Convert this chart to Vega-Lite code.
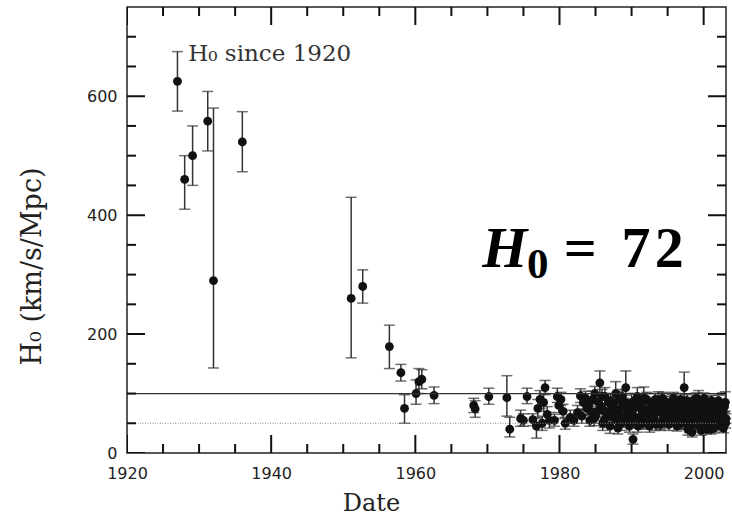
{
  "$schema": "https://vega.github.io/schema/vega-lite/v6.json",
  "width": 599,
  "height": 446,
  "autosize": {"type": "none"},
  "padding": {"left": 127, "top": 7, "right": 6, "bottom": 62},
  "background": "white",
  "config": {
    "view": {"stroke": "#222", "strokeWidth": 1.5},
    "axis": {"labelFont": "DejaVu Sans", "labelFontSize": 16, "labelColor": "#222", "titleFont": "DejaVu Serif", "titleFontSize": 24, "titleFontWeight": "normal", "titleColor": "#222", "ticks": false, "tickSize": 0, "domain": false, "grid": false, "labelOverlap": false, "labelFlush": false}
  },
  "datasets": {
    "xticks": [{"v": 1920}, {"v": 1925}, {"v": 1930}, {"v": 1935}, {"v": 1940}, {"v": 1945}, {"v": 1950}, {"v": 1955}, {"v": 1960}, {"v": 1965}, {"v": 1970}, {"v": 1975}, {"v": 1980}, {"v": 1985}, {"v": 1990}, {"v": 1995}, {"v": 2000}],
    "yticks": [{"v": 0}, {"v": 50}, {"v": 100}, {"v": 150}, {"v": 200}, {"v": 250}, {"v": 300}, {"v": 350}, {"v": 400}, {"v": 450}, {"v": 500}, {"v": 550}, {"v": 600}, {"v": 650}, {"v": 700}]
  },
  "data": {"values": [
    {"year": 1927.0, "h": 625, "lo": 575, "hi": 675},
    {"year": 1928.0, "h": 460, "lo": 410, "hi": 500},
    {"year": 1929.1, "h": 500, "lo": 450, "hi": 550},
    {"year": 1931.2, "h": 558, "lo": 508, "hi": 608},
    {"year": 1932.0, "h": 290, "lo": 143, "hi": 580},
    {"year": 1936.0, "h": 523, "lo": 473, "hi": 574},
    {"year": 1951.1, "h": 260, "lo": 160, "hi": 430},
    {"year": 1952.7, "h": 280, "lo": 252, "hi": 308},
    {"year": 1956.4, "h": 179, "lo": 142, "hi": 215},
    {"year": 1958.0, "h": 135, "lo": 121, "hi": 149},
    {"year": 1958.5, "h": 75, "lo": 50, "hi": 98},
    {"year": 1960.1, "h": 100, "lo": 82, "hi": 123},
    {"year": 1960.5, "h": 120, "lo": 100, "hi": 142},
    {"year": 1960.9, "h": 124, "lo": 108, "hi": 140},
    {"year": 1962.6, "h": 97, "lo": 83, "hi": 111},
    {"year": 1968.1, "h": 80, "lo": 68, "hi": 92},
    {"year": 1968.3, "h": 74, "lo": 60, "hi": 88},
    {"year": 1970.2, "h": 95, "lo": 82, "hi": 109},
    {"year": 1972.7, "h": 93, "lo": 62, "hi": 130},
    {"year": 1973.1, "h": 40, "lo": 27, "hi": 60},
    {"year": 1974.6, "h": 58, "lo": 45, "hi": 72},
    {"year": 1975.0, "h": 55, "lo": 45, "hi": 66},
    {"year": 1975.5, "h": 95, "lo": 83, "hi": 109},
    {"year": 1976.3, "h": 56, "lo": 46, "hi": 66},
    {"year": 1976.8, "h": 45, "lo": 25, "hi": 58},
    {"year": 1977.0, "h": 75, "lo": 60, "hi": 90},
    {"year": 1977.3, "h": 90, "lo": 75, "hi": 105},
    {"year": 1977.6, "h": 50, "lo": 38, "hi": 62},
    {"year": 1977.8, "h": 85, "lo": 70, "hi": 100},
    {"year": 1978.0, "h": 110, "lo": 98, "hi": 122},
    {"year": 1978.3, "h": 65, "lo": 52, "hi": 78},
    {"year": 1978.6, "h": 55, "lo": 42, "hi": 68},
    {"year": 1979.3, "h": 55, "lo": 45, "hi": 65},
    {"year": 1979.7, "h": 95, "lo": 85, "hi": 109},
    {"year": 1979.9, "h": 80, "lo": 68, "hi": 92},
    {"year": 1980.2, "h": 90, "lo": 80, "hi": 102},
    {"year": 1980.5, "h": 70, "lo": 58, "hi": 82},
    {"year": 1980.8, "h": 50, "lo": 40, "hi": 60},
    {"year": 1981.5, "h": 60, "lo": 50, "hi": 72},
    {"year": 1982.0, "h": 55, "lo": 45, "hi": 65},
    {"year": 1982.5, "h": 68, "lo": 58, "hi": 80},
    {"year": 1982.9, "h": 96, "lo": 85, "hi": 108},
    {"year": 1983.1, "h": 62, "lo": 50, "hi": 74},
    {"year": 1983.3, "h": 85, "lo": 73, "hi": 97},
    {"year": 1983.6, "h": 92, "lo": 80, "hi": 104},
    {"year": 1983.8, "h": 75, "lo": 63, "hi": 88},
    {"year": 1984.0, "h": 80, "lo": 70, "hi": 92},
    {"year": 1984.2, "h": 55, "lo": 45, "hi": 65},
    {"year": 1984.4, "h": 70, "lo": 58, "hi": 82},
    {"year": 1984.6, "h": 90, "lo": 78, "hi": 104},
    {"year": 1984.8, "h": 58, "lo": 46, "hi": 70},
    {"year": 1984.9, "h": 100, "lo": 88, "hi": 112},
    {"year": 1985.0, "h": 62, "lo": 50, "hi": 74},
    {"year": 1985.2, "h": 70, "lo": 55, "hi": 85},
    {"year": 1985.4, "h": 85, "lo": 73, "hi": 97},
    {"year": 1985.6, "h": 118, "lo": 100, "hi": 138},
    {"year": 1985.8, "h": 78, "lo": 65, "hi": 92},
    {"year": 1985.9, "h": 95, "lo": 83, "hi": 107},
    {"year": 1986.0, "h": 50, "lo": 38, "hi": 62},
    {"year": 1986.1, "h": 72, "lo": 60, "hi": 84},
    {"year": 1986.2, "h": 55, "lo": 43, "hi": 67},
    {"year": 1986.3, "h": 95, "lo": 80, "hi": 110},
    {"year": 1986.5, "h": 60, "lo": 48, "hi": 72},
    {"year": 1986.7, "h": 68, "lo": 56, "hi": 80},
    {"year": 1986.8, "h": 85, "lo": 72, "hi": 100},
    {"year": 1987.0, "h": 45, "lo": 33, "hi": 57},
    {"year": 1987.1, "h": 88, "lo": 76, "hi": 100},
    {"year": 1987.2, "h": 62, "lo": 50, "hi": 74},
    {"year": 1987.3, "h": 75, "lo": 62, "hi": 88},
    {"year": 1987.5, "h": 80, "lo": 68, "hi": 92},
    {"year": 1987.8, "h": 100, "lo": 85, "hi": 120},
    {"year": 1987.9, "h": 55, "lo": 42, "hi": 68},
    {"year": 1988.0, "h": 65, "lo": 52, "hi": 78},
    {"year": 1988.1, "h": 42, "lo": 32, "hi": 52},
    {"year": 1988.2, "h": 72, "lo": 60, "hi": 84},
    {"year": 1988.3, "h": 90, "lo": 76, "hi": 104},
    {"year": 1988.4, "h": 58, "lo": 46, "hi": 70},
    {"year": 1988.6, "h": 50, "lo": 38, "hi": 62},
    {"year": 1988.7, "h": 95, "lo": 83, "hi": 107},
    {"year": 1988.9, "h": 80, "lo": 68, "hi": 92},
    {"year": 1989.0, "h": 62, "lo": 50, "hi": 74},
    {"year": 1989.1, "h": 85, "lo": 73, "hi": 97},
    {"year": 1989.2, "h": 110, "lo": 85, "hi": 138},
    {"year": 1989.4, "h": 55, "lo": 43, "hi": 67},
    {"year": 1989.5, "h": 70, "lo": 58, "hi": 82},
    {"year": 1989.7, "h": 45, "lo": 35, "hi": 57},
    {"year": 1989.8, "h": 75, "lo": 63, "hi": 87},
    {"year": 1989.9, "h": 52, "lo": 42, "hi": 62},
    {"year": 1990.0, "h": 85, "lo": 70, "hi": 100},
    {"year": 1990.1, "h": 65, "lo": 53, "hi": 77},
    {"year": 1990.2, "h": 23, "lo": 15, "hi": 32},
    {"year": 1990.4, "h": 88, "lo": 76, "hi": 100},
    {"year": 1990.5, "h": 60, "lo": 48, "hi": 72},
    {"year": 1990.6, "h": 78, "lo": 66, "hi": 90},
    {"year": 1990.8, "h": 95, "lo": 80, "hi": 110},
    {"year": 1990.9, "h": 45, "lo": 35, "hi": 55},
    {"year": 1991.0, "h": 55, "lo": 45, "hi": 66},
    {"year": 1991.1, "h": 82, "lo": 70, "hi": 94},
    {"year": 1991.3, "h": 75, "lo": 63, "hi": 88},
    {"year": 1991.4, "h": 60, "lo": 48, "hi": 72},
    {"year": 1991.5, "h": 68, "lo": 56, "hi": 80},
    {"year": 1991.6, "h": 50, "lo": 40, "hi": 60},
    {"year": 1991.7, "h": 92, "lo": 78, "hi": 111},
    {"year": 1991.8, "h": 72, "lo": 60, "hi": 84},
    {"year": 1991.9, "h": 88, "lo": 76, "hi": 100},
    {"year": 1992.0, "h": 52, "lo": 42, "hi": 62},
    {"year": 1992.1, "h": 90, "lo": 78, "hi": 102},
    {"year": 1992.2, "h": 65, "lo": 53, "hi": 77},
    {"year": 1992.3, "h": 58, "lo": 46, "hi": 70},
    {"year": 1992.5, "h": 45, "lo": 35, "hi": 56},
    {"year": 1992.6, "h": 75, "lo": 63, "hi": 87},
    {"year": 1992.8, "h": 80, "lo": 68, "hi": 92},
    {"year": 1992.9, "h": 72, "lo": 60, "hi": 84},
    {"year": 1993.0, "h": 58, "lo": 48, "hi": 68},
    {"year": 1993.1, "h": 65, "lo": 55, "hi": 75},
    {"year": 1993.3, "h": 90, "lo": 80, "hi": 100},
    {"year": 1993.4, "h": 48, "lo": 38, "hi": 58},
    {"year": 1993.5, "h": 82, "lo": 72, "hi": 92},
    {"year": 1993.6, "h": 70, "lo": 58, "hi": 82},
    {"year": 1993.7, "h": 88, "lo": 74, "hi": 103},
    {"year": 1993.8, "h": 78, "lo": 68, "hi": 88},
    {"year": 1993.9, "h": 50, "lo": 40, "hi": 60},
    {"year": 1994.0, "h": 48, "lo": 38, "hi": 58},
    {"year": 1994.1, "h": 68, "lo": 58, "hi": 78},
    {"year": 1994.2, "h": 85, "lo": 74, "hi": 96},
    {"year": 1994.3, "h": 92, "lo": 82, "hi": 102},
    {"year": 1994.5, "h": 62, "lo": 52, "hi": 72},
    {"year": 1994.6, "h": 52, "lo": 42, "hi": 62},
    {"year": 1994.7, "h": 58, "lo": 48, "hi": 68},
    {"year": 1994.8, "h": 75, "lo": 65, "hi": 86},
    {"year": 1994.9, "h": 85, "lo": 75, "hi": 95},
    {"year": 1995.0, "h": 65, "lo": 55, "hi": 75},
    {"year": 1995.1, "h": 55, "lo": 45, "hi": 65},
    {"year": 1995.2, "h": 48, "lo": 38, "hi": 58},
    {"year": 1995.3, "h": 80, "lo": 70, "hi": 90},
    {"year": 1995.4, "h": 68, "lo": 58, "hi": 78},
    {"year": 1995.5, "h": 75, "lo": 65, "hi": 85},
    {"year": 1995.6, "h": 58, "lo": 48, "hi": 68},
    {"year": 1995.7, "h": 88, "lo": 78, "hi": 98},
    {"year": 1995.8, "h": 92, "lo": 82, "hi": 102},
    {"year": 1995.9, "h": 72, "lo": 62, "hi": 82},
    {"year": 1996.0, "h": 60, "lo": 50, "hi": 70},
    {"year": 1996.1, "h": 70, "lo": 60, "hi": 80},
    {"year": 1996.2, "h": 85, "lo": 75, "hi": 95},
    {"year": 1996.3, "h": 45, "lo": 37, "hi": 53},
    {"year": 1996.4, "h": 62, "lo": 52, "hi": 72},
    {"year": 1996.5, "h": 52, "lo": 42, "hi": 62},
    {"year": 1996.6, "h": 78, "lo": 68, "hi": 88},
    {"year": 1996.7, "h": 48, "lo": 40, "hi": 56},
    {"year": 1996.8, "h": 90, "lo": 80, "hi": 100},
    {"year": 1996.9, "h": 55, "lo": 45, "hi": 65},
    {"year": 1997.0, "h": 84, "lo": 74, "hi": 94},
    {"year": 1997.1, "h": 70, "lo": 60, "hi": 80},
    {"year": 1997.2, "h": 58, "lo": 48, "hi": 68},
    {"year": 1997.3, "h": 110, "lo": 88, "hi": 136},
    {"year": 1997.4, "h": 78, "lo": 68, "hi": 88},
    {"year": 1997.5, "h": 50, "lo": 40, "hi": 60},
    {"year": 1997.6, "h": 65, "lo": 55, "hi": 75},
    {"year": 1997.7, "h": 88, "lo": 78, "hi": 98},
    {"year": 1997.8, "h": 40, "lo": 30, "hi": 50},
    {"year": 1997.9, "h": 62, "lo": 52, "hi": 72},
    {"year": 1998.0, "h": 58, "lo": 48, "hi": 68},
    {"year": 1998.05, "h": 42, "lo": 34, "hi": 50},
    {"year": 1998.1, "h": 72, "lo": 62, "hi": 82},
    {"year": 1998.2, "h": 80, "lo": 70, "hi": 90},
    {"year": 1998.3, "h": 48, "lo": 40, "hi": 56},
    {"year": 1998.4, "h": 35, "lo": 27, "hi": 43},
    {"year": 1998.45, "h": 78, "lo": 69, "hi": 87},
    {"year": 1998.5, "h": 62, "lo": 52, "hi": 72},
    {"year": 1998.6, "h": 68, "lo": 58, "hi": 78},
    {"year": 1998.7, "h": 90, "lo": 80, "hi": 100},
    {"year": 1998.8, "h": 50, "lo": 40, "hi": 60},
    {"year": 1998.9, "h": 82, "lo": 72, "hi": 92},
    {"year": 1998.95, "h": 65, "lo": 56, "hi": 74},
    {"year": 1999.0, "h": 75, "lo": 65, "hi": 85},
    {"year": 1999.05, "h": 92, "lo": 83, "hi": 101},
    {"year": 1999.1, "h": 52, "lo": 44, "hi": 60},
    {"year": 1999.2, "h": 60, "lo": 50, "hi": 70},
    {"year": 1999.3, "h": 88, "lo": 73, "hi": 105},
    {"year": 1999.35, "h": 72, "lo": 63, "hi": 81},
    {"year": 1999.4, "h": 45, "lo": 37, "hi": 53},
    {"year": 1999.5, "h": 70, "lo": 60, "hi": 80},
    {"year": 1999.6, "h": 85, "lo": 75, "hi": 95},
    {"year": 1999.65, "h": 38, "lo": 30, "hi": 46},
    {"year": 1999.7, "h": 55, "lo": 47, "hi": 63},
    {"year": 1999.8, "h": 65, "lo": 56, "hi": 74},
    {"year": 1999.9, "h": 42, "lo": 34, "hi": 50},
    {"year": 1999.95, "h": 80, "lo": 71, "hi": 89},
    {"year": 2000.0, "h": 55, "lo": 45, "hi": 65},
    {"year": 2000.05, "h": 92, "lo": 83, "hi": 101},
    {"year": 2000.1, "h": 64, "lo": 55, "hi": 73},
    {"year": 2000.2, "h": 72, "lo": 63, "hi": 81},
    {"year": 2000.3, "h": 48, "lo": 40, "hi": 56},
    {"year": 2000.35, "h": 58, "lo": 50, "hi": 66},
    {"year": 2000.4, "h": 40, "lo": 32, "hi": 48},
    {"year": 2000.5, "h": 85, "lo": 75, "hi": 95},
    {"year": 2000.6, "h": 62, "lo": 53, "hi": 71},
    {"year": 2000.65, "h": 45, "lo": 37, "hi": 53},
    {"year": 2000.7, "h": 70, "lo": 61, "hi": 79},
    {"year": 2000.8, "h": 78, "lo": 69, "hi": 87},
    {"year": 2000.9, "h": 48, "lo": 40, "hi": 56},
    {"year": 2000.95, "h": 68, "lo": 60, "hi": 76},
    {"year": 2001.0, "h": 58, "lo": 49, "hi": 67},
    {"year": 2001.05, "h": 40, "lo": 32, "hi": 48},
    {"year": 2001.1, "h": 88, "lo": 79, "hi": 97},
    {"year": 2001.2, "h": 70, "lo": 61, "hi": 79},
    {"year": 2001.3, "h": 62, "lo": 53, "hi": 71},
    {"year": 2001.4, "h": 42, "lo": 34, "hi": 50},
    {"year": 2001.45, "h": 75, "lo": 66, "hi": 84},
    {"year": 2001.5, "h": 50, "lo": 42, "hi": 58},
    {"year": 2001.6, "h": 80, "lo": 71, "hi": 89},
    {"year": 2001.7, "h": 58, "lo": 50, "hi": 66},
    {"year": 2001.8, "h": 65, "lo": 57, "hi": 73},
    {"year": 2001.85, "h": 48, "lo": 40, "hi": 56},
    {"year": 2001.9, "h": 72, "lo": 64, "hi": 80},
    {"year": 2002.0, "h": 75, "lo": 66, "hi": 84},
    {"year": 2002.05, "h": 88, "lo": 79, "hi": 97},
    {"year": 2002.1, "h": 62, "lo": 54, "hi": 70},
    {"year": 2002.2, "h": 55, "lo": 47, "hi": 63},
    {"year": 2002.3, "h": 82, "lo": 74, "hi": 90},
    {"year": 2002.35, "h": 68, "lo": 60, "hi": 76},
    {"year": 2002.4, "h": 45, "lo": 37, "hi": 53},
    {"year": 2002.5, "h": 68, "lo": 60, "hi": 76},
    {"year": 2002.6, "h": 52, "lo": 44, "hi": 60},
    {"year": 2002.7, "h": 70, "lo": 62, "hi": 78},
    {"year": 2002.75, "h": 42, "lo": 34, "hi": 50},
    {"year": 2002.8, "h": 60, "lo": 52, "hi": 68},
    {"year": 2002.9, "h": 78, "lo": 70, "hi": 86},
    {"year": 2003.0, "h": 85, "lo": 70, "hi": 103},
    {"year": 2003.05, "h": 50, "lo": 42, "hi": 58},
    {"year": 2003.1, "h": 58, "lo": 50, "hi": 66}
  ]},
  "layer": [
    {
      "mark": {"type": "rule", "color": "#333", "strokeWidth": 1.5},
      "encoding": {
        "x": {"field": "year", "type": "quantitative",
          "scale": {"domain": [1920, 2003.1], "nice": false, "zero": false},
          "axis": {"orient": "bottom", "values": [1920, 1940, 1960, 1980, 2000], "format": "d", "labelPadding": 12,
            "title": "Date", "titleX": 244, "titleY": 38, "titleBaseline": "top", "titleAnchor": null}},
        "y": {"field": "lo", "type": "quantitative",
          "scale": {"domain": [0, 750], "nice": false, "zero": false},
          "axis": {"orient": "left", "values": [0, 200, 400, 600], "format": "d", "labelPadding": 10,
            "title": "H₀ (km/s/Mpc)", "titleFontSize": 27, "titleX": -95, "titleY": 259, "titleAngle": -90, "titleBaseline": "middle", "titleAlign": "center"}},
        "y2": {"field": "hi"}
      }
    },
    {
      "mark": {"type": "tick", "orient": "horizontal", "color": "#333", "size": 11, "thickness": 1.5},
      "encoding": {
        "x": {"field": "year", "type": "quantitative"},
        "y": {"field": "lo", "type": "quantitative"}
      }
    },
    {
      "mark": {"type": "tick", "orient": "horizontal", "color": "#333", "size": 11, "thickness": 1.5},
      "encoding": {
        "x": {"field": "year", "type": "quantitative"},
        "y": {"field": "hi", "type": "quantitative"}
      }
    },
    {
      "mark": {"type": "circle", "color": "#111", "size": 78, "opacity": 1},
      "encoding": {
        "x": {"field": "year", "type": "quantitative"},
        "y": {"field": "h", "type": "quantitative"}
      }
    },
    {
      "data": {"values": [{"level": 100}]},
      "mark": {"type": "rule", "color": "#333", "strokeWidth": 1.3},
      "encoding": {"y": {"field": "level", "type": "quantitative"}}
    },
    {
      "data": {"values": [{"level": 50}]},
      "mark": {"type": "rule", "color": "#888", "strokeWidth": 1, "strokeDash": [1, 1.5]},
      "encoding": {"y": {"field": "level", "type": "quantitative"}}
    },
    {
      "data": {"name": "xticks"},
      "mark": {"type": "tick", "orient": "vertical", "color": "#111", "thickness": 2, "opacity": 1, "clip": true},
      "encoding": {
        "x": {"field": "v", "type": "quantitative"},
        "y": {"datum": 0, "type": "quantitative"},
        "size": {"condition": {"test": "datum.v % 20 === 0", "value": 36}, "value": 18}
      }
    },
    {
      "data": {"name": "xticks"},
      "mark": {"type": "tick", "orient": "vertical", "color": "#111", "thickness": 2, "opacity": 1, "clip": true},
      "encoding": {
        "x": {"field": "v", "type": "quantitative"},
        "y": {"datum": 750, "type": "quantitative"},
        "size": {"condition": {"test": "datum.v % 20 === 0", "value": 36}, "value": 18}
      }
    },
    {
      "data": {"name": "yticks"},
      "mark": {"type": "tick", "orient": "horizontal", "color": "#111", "thickness": 2, "opacity": 1, "clip": true},
      "encoding": {
        "y": {"field": "v", "type": "quantitative"},
        "x": {"datum": 1920, "type": "quantitative"},
        "size": {"condition": {"test": "datum.v % 200 === 0", "value": 36}, "value": 18}
      }
    },
    {
      "data": {"name": "yticks"},
      "mark": {"type": "tick", "orient": "horizontal", "color": "#111", "thickness": 2, "opacity": 1, "clip": true},
      "encoding": {
        "y": {"field": "v", "type": "quantitative"},
        "x": {"datum": 2003.1, "type": "quantitative"},
        "size": {"condition": {"test": "datum.v % 200 === 0", "value": 36}, "value": 18}
      }
    },
    {
      "data": {"values": [{"label": "H₀  since  1920", "year": 1928.5, "h": 660}]},
      "mark": {"type": "text", "font": "DejaVu Serif", "fontSize": 23, "color": "#333", "align": "left", "baseline": "alphabetic"},
      "encoding": {
        "text": {"field": "label"},
        "x": {"field": "year", "type": "quantitative"},
        "y": {"field": "h", "type": "quantitative"}
      }
    },
    {
      "data": {"values": [{"label": "H", "year": 1969.3, "h": 313}]},
      "mark": {"type": "text", "font": "Liberation Serif", "fontStyle": "italic", "fontWeight": "bold", "fontSize": 58, "color": "black", "align": "left", "baseline": "alphabetic"},
      "encoding": {
        "text": {"field": "label"},
        "x": {"field": "year", "type": "quantitative"},
        "y": {"field": "h", "type": "quantitative"}
      }
    },
    {
      "data": {"values": [{"label": "0", "year": 1975.5, "h": 294}]},
      "mark": {"type": "text", "font": "Liberation Serif", "fontWeight": "bold", "fontSize": 43, "color": "black", "align": "left", "baseline": "alphabetic"},
      "encoding": {
        "text": {"field": "label"},
        "x": {"field": "year", "type": "quantitative"},
        "y": {"field": "h", "type": "quantitative"}
      }
    },
    {
      "data": {"values": [{"label": "=", "year": 1980.6, "h": 313}, {"label": "7", "year": 1988.6, "h": 313}, {"label": "2", "year": 1993.2, "h": 313}]},
      "mark": {"type": "text", "font": "Liberation Serif", "fontWeight": "bold", "fontSize": 58, "color": "black", "align": "left", "baseline": "alphabetic"},
      "encoding": {
        "text": {"field": "label"},
        "x": {"field": "year", "type": "quantitative"},
        "y": {"field": "h", "type": "quantitative"}
      }
    }
  ]
}
